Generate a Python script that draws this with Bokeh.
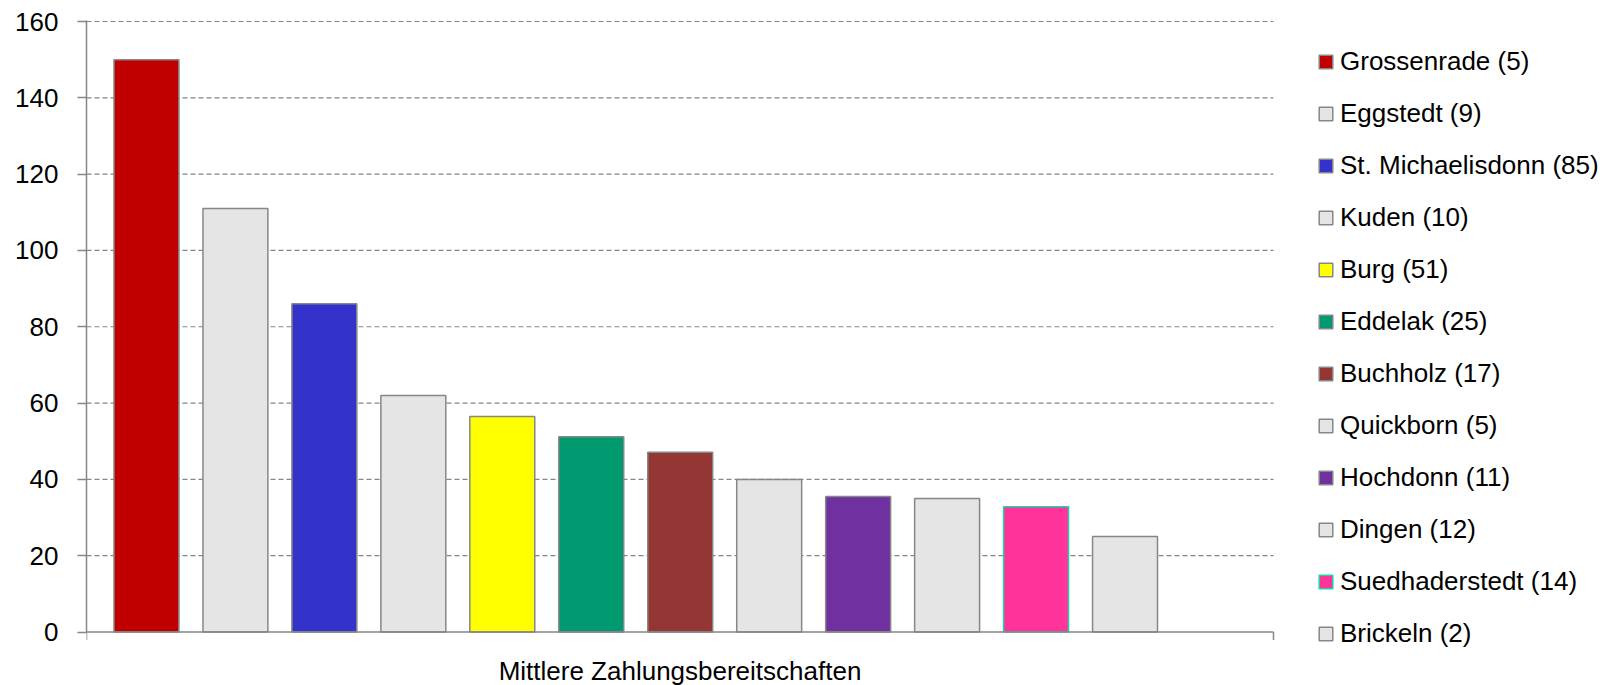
from bokeh.plotting import figure
from bokeh.models import (ColumnDataSource, Range1d, LinearAxis, FixedTicker,
                          Legend, LegendItem, Label)
from bokeh.embed import file_html
from bokeh.resources import INLINE

# ---- data ----
categories = ["Grossenrade (5)", "Eggstedt (9)", "St. Michaelisdonn (85)", "Kuden (10)",
              "Burg (51)", "Eddelak (25)", "Buchholz (17)", "Quickborn (5)",
              "Hochdonn (11)", "Dingen (12)", "Suedhaderstedt (14)", "Brickeln (2)"]
values = [150, 111, 86, 62, 56.5, 51.2, 47.1, 40, 35.5, 35, 32.8, 25]
fill_colors = ["#C00000", "#E5E5E5", "#3333CC", "#E5E5E5", "#FFFF00", "#009970",
               "#943634", "#E5E5E5", "#7030A0", "#E5E5E5", "#FF3399", "#E5E5E5"]
line_colors = ["#878787"] * 10 + ["#1ED3A5", "#878787"]
y_ticks = [0, 20, 40, 60, 80, 100, 120, 140, 160]
x_label = "Mittlere Zahlungsbereitschaften"

FONT = "Liberation Sans"
AXIS_COLOR = "#868686"

W, H = 1612, 685
LEFT, TOP = 86, 20
AXIS_RIGHT_PX = 1273
ZERO_PX = 631.5          # pixel row of the value 0
Y_TOP_VAL = 160

n = len(values)
x_start_offset = 0.674
x_max = x_start_offset + (n - 1) + 1.669
xs = [x_start_offset + i for i in range(n)]
frame_w = W - LEFT
x_end = x_max * frame_w / (AXIS_RIGHT_PX - LEFT)

px_per_unit = (ZERO_PX - (TOP + 1)) / Y_TOP_VAL
y_start = -(H - ZERO_PX) / px_per_unit
y_end = (ZERO_PX - TOP) / px_per_unit

src = ColumnDataSource(dict(x=xs, top=values, fill=fill_colors, line=line_colors, name=categories))
grid_src = ColumnDataSource(dict(y=y_ticks[1:], x0=[0] * (len(y_ticks) - 1),
                                 x1=[x_max] * (len(y_ticks) - 1)))
xaxis_src = ColumnDataSource(dict(x=[0, x_max], y=[0, 0]))

p = figure(width=W, height=H, output_backend="svg", toolbar_location=None,
           x_range=Range1d(0, x_end), y_range=Range1d(y_start, y_end),
           x_axis_type=None, y_axis_type=None,
           min_border_left=LEFT, min_border_right=0, min_border_top=TOP, min_border_bottom=0)
p.outline_line_color = None
p.background_fill_color = "white"
p.border_fill_color = "white"
p.xgrid.visible = False
p.ygrid.visible = False

# dashed horizontal grid lines, limited to the category axis extent
p.segment(x0="x0", x1="x1", y0="y", y1="y", source=grid_src,
          line_color=AXIS_COLOR, line_width=1.2, line_dash="5 3")

r = p.vbar(x="x", top="top", bottom=0, width=0.73, source=src,
           fill_color="fill", line_color="line", line_width=1.5)

# category axis: line at 0 and outward ticks at both ends
p.line(x="x", y="y", source=xaxis_src, line_color=AXIS_COLOR, line_width=1.5)
p.ray(x="x", y="y", source=xaxis_src, length=8, length_units="screen",
      angle=-90, angle_units="deg", line_color=AXIS_COLOR, line_width=1.5)

# value axis
yaxis = LinearAxis(ticker=FixedTicker(ticks=y_ticks), bounds=(0, y_end))
yaxis.axis_line_color = AXIS_COLOR
yaxis.axis_line_width = 1.5
yaxis.major_tick_line_color = AXIS_COLOR
yaxis.major_tick_line_width = 1.5
yaxis.major_tick_in = 0
yaxis.major_tick_out = 9
yaxis.minor_tick_line_color = None
yaxis.major_label_standoff = 19
yaxis.major_label_text_font = FONT
yaxis.major_label_text_font_size = "26px"
yaxis.major_label_text_color = "#000000"
p.add_layout(yaxis, "left")

# category label under the axis
lbl = Label(x=x_max / 2, y=-(670 - ZERO_PX) / px_per_unit, text=x_label,
            text_align="center", text_baseline="middle",
            text_font=FONT, text_font_size="26px", text_color="#000000")
p.add_layout(lbl)

items = [LegendItem(label=categories[i], renderers=[r], index=i) for i in range(n)]
legend = Legend(items=items, location=(1231, 36))
legend.orientation = "vertical"
legend.border_line_color = None
legend.background_fill_alpha = 0
legend.padding = 0
legend.margin = 0
legend.spacing = 21
legend.glyph_width = 17
legend.glyph_height = 17
legend.label_height = 30
legend.label_standoff = 6
legend.label_text_font = FONT
legend.label_text_font_size = "26px"
legend.label_text_color = "#000000"
legend.label_text_baseline = "middle"
p.add_layout(legend, "center")

open("out.html", "w").write(file_html(p, INLINE))
